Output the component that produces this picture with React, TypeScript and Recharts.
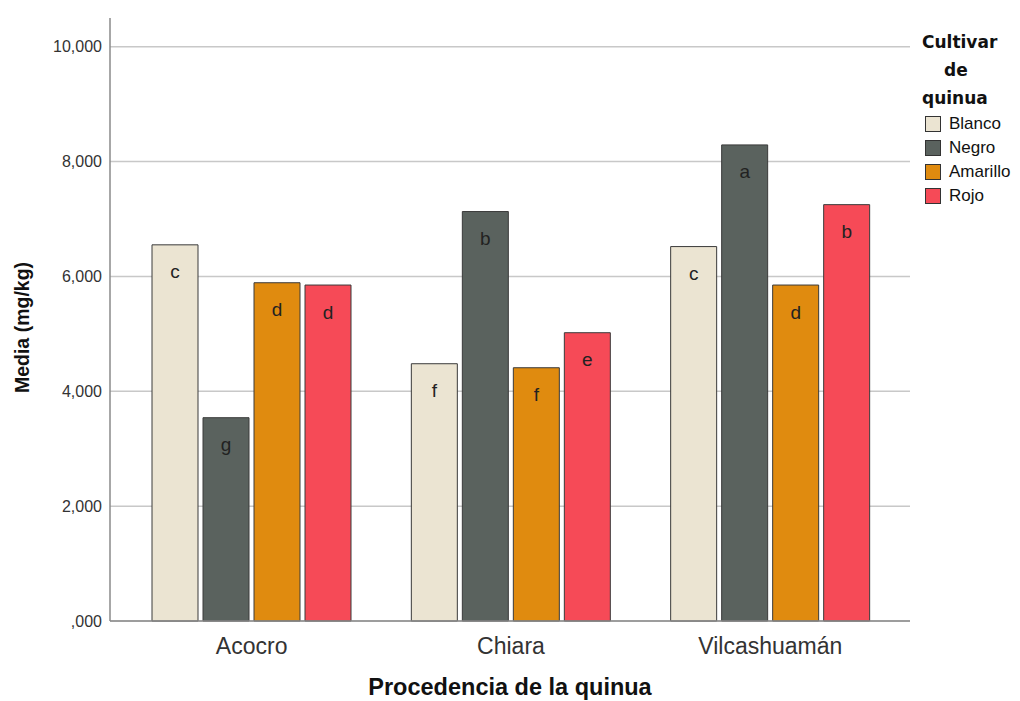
import { BarChart, Bar, XAxis, YAxis, CartesianGrid, LabelList, Label } from "recharts";

const FONT = '"Liberation Sans", Arial, sans-serif';

// Procedencia (x categories)
const categories = ["Acocro", "Chiara", "Vilcashuamán"];

// Media (mg/kg) por cultivar
const blanco = [6.55, 4.48, 6.52];
const negro = [3.54, 7.13, 8.29];
const amarillo = [5.89, 4.41, 5.85];
const rojo = [5.85, 5.02, 7.25];

// letras de significancia
const blancoLetters = ["c", "f", "c"];
const negroLetters = ["g", "b", "a"];
const amarilloLetters = ["d", "f", "d"];
const rojoLetters = ["d", "e", "b"];

const yTicks = [0, 2, 4, 6, 8, 10];

const series = [
  { key: "Blanco", values: blanco, letters: blancoLetters, color: "#ebe4d2" },
  { key: "Negro", values: negro, letters: negroLetters, color: "#5a625e" },
  { key: "Amarillo", values: amarillo, letters: amarilloLetters, color: "#e08b0f" },
  { key: "Rojo", values: rojo, letters: rojoLetters, color: "#f64a57" },
];

const data = categories.map((name, i) => {
  const row: Record<string, string | number> = { name };
  series.forEach((s) => {
    row[s.key] = s.values[i];
    row[s.key + "Letter"] = s.letters[i];
  });
  return row;
});

const formatTick = (v: number) => (v === 0 ? ",000" : v.toFixed(3).replace(".", ","));

function CultivarLegend() {
  return (
    <div style={{ position: "absolute", left: 914, top: 20, width: 100, fontFamily: FONT, color: "#111" }}>
      <div style={{ fontFamily: '"DejaVu Sans", sans-serif', fontWeight: "bold", fontSize: 17, lineHeight: "28px" }}>
        <div>Cultivar</div>
        <div style={{ paddingLeft: 22 }}>de</div>
        <div>quinua</div>
      </div>
      {series.map((s) => (
        <div key={s.key} style={{ display: "flex", alignItems: "center", height: 24, fontSize: 17 }}>
          <span
            style={{
              width: 14,
              height: 14,
              background: s.color,
              border: "1px solid #333",
              marginLeft: 3,
              marginRight: 8,
              display: "inline-block",
            }}
          />
          <span>{s.key}</span>
        </div>
      ))}
    </div>
  );
}

export default function App() {
  return (
    <div style={{ position: "relative", width: 1012, height: 693 }}>
      <BarChart
        width={1012}
        height={693}
        data={data}
        margin={{ top: 10, right: 110, bottom: 0, left: 0 }}
        barCategoryGap={30}
        barGap={5}
      >
        <CartesianGrid vertical={false} horizontalValues={yTicks} stroke="#c8c8c8" strokeWidth={1.5} />
        <XAxis
          dataKey="name"
          height={80}
          padding={{ left: 12, right: 10 }}
          tickLine={false}
          tickMargin={11}
          stroke="#8a8a8a"
          strokeWidth={1.5}
          tick={{ fill: "#333", fontSize: 23, fontFamily: FONT }}
        >
          <Label
            content={({ viewBox }: any) => (
              <text
                x={viewBox.x + viewBox.width / 2}
                y={viewBox.y + 74}
                textAnchor="middle"
                fontFamily={FONT}
                fontWeight="bold"
                fontSize={23.5}
                fill="#111"
              >
                Procedencia de la quinua
              </text>
            )}
          />
        </XAxis>
        <YAxis
          width={102}
          domain={[0, 10.5]}
          ticks={yTicks}
          tickFormatter={formatTick}
          tickLine={false}
          tickMargin={2}
          stroke="#8a8a8a"
          strokeWidth={1.5}
          tick={{ fill: "#333", fontSize: 16, fontFamily: FONT }}
        >
          <Label
            content={({ viewBox }: any) => {
              const cy = viewBox.y + viewBox.height / 2 + 8;
              return (
                <text
                  x={14}
                  y={cy}
                  transform={`rotate(-90 14 ${cy})`}
                  textAnchor="middle"
                  dominantBaseline="central"
                  fontFamily={FONT}
                  fontWeight="bold"
                  fontSize={19.5}
                  fill="#111"
                >
                  Media (mg/kg)
                </text>
              );
            }}
          />
        </YAxis>
        {series.map((s) => (
          <Bar key={s.key} dataKey={s.key} fill={s.color} stroke="#3a3a3a" strokeWidth={1} isAnimationActive={false}>
            <LabelList
              dataKey={s.key + "Letter"}
              position="insideTop"
              offset={20}
              fill="#222"
              fontSize={19}
              fontFamily={FONT}
            />
          </Bar>
        ))}
      </BarChart>
      <CultivarLegend />
    </div>
  );
}
